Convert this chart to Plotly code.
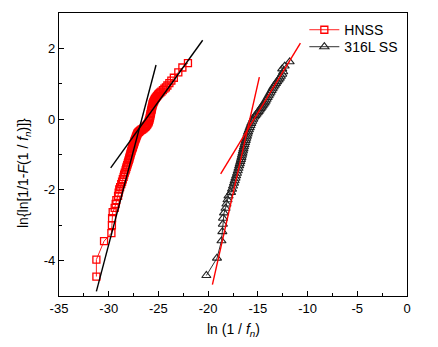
import plotly.graph_objects as go

# HNSS data (ln(1/fn), Weibull ordinate)
hnss_x = [-31.24, -31.24, -30.47, -29.73, -29.68, -29.66, -29.60, -29.40, -29.30, -29.23,
          -29.06, -29.00, -28.94, -28.85, -28.74, -28.66, -28.58, -28.50, -28.45, -28.38,
          -28.30, -28.25, -28.20, -28.14, -28.08, -28.03, -27.98, -27.94, -27.90, -27.86,
          -27.82, -27.78, -27.74, -27.70, -27.66, -27.62, -27.58, -27.55, -27.52, -27.48,
          -27.45, -27.42, -27.38, -27.34, -27.30, -27.26, -27.22, -27.18, -27.14, -27.10,
          -27.04, -26.96, -26.88, -26.80, -26.70, -26.60, -26.50, -26.42, -26.34, -26.26,
          -26.18, -26.10, -26.02, -25.96, -25.92, -25.88, -25.85, -25.82, -25.79, -25.76,
          -25.73, -25.70, -25.67, -25.64, -25.61, -25.58, -25.54, -25.50, -25.45, -25.40,
          -25.34, -25.27, -25.20, -25.12, -25.03, -24.93, -24.82, -24.70, -24.55, -24.40,
          -24.25, -24.10, -23.90, -23.70, -23.45, -23.00, -22.59, -22.03]
hnss_y = [-4.45, -3.97, -3.45, -3.22, -3.00, -2.80, -2.63, -2.51, -2.40, -2.29,
          -2.17, -2.08, -1.99, -1.92, -1.84, -1.77, -1.70, -1.63, -1.57, -1.51,
          -1.45, -1.40, -1.35, -1.30, -1.25, -1.20, -1.16, -1.12, -1.08, -1.04,
          -1.00, -0.96, -0.92, -0.89, -0.85, -0.82, -0.79, -0.76, -0.73, -0.70,
          -0.67, -0.64, -0.61, -0.58, -0.55, -0.52, -0.49, -0.46, -0.43, -0.40,
          -0.38, -0.36, -0.34, -0.32, -0.30, -0.28, -0.26, -0.24, -0.22, -0.20,
          -0.17, -0.14, -0.10, -0.06, -0.02, 0.02, 0.06, 0.10, 0.14, 0.18,
          0.22, 0.26, 0.30, 0.34, 0.38, 0.42, 0.45, 0.48, 0.51, 0.54,
          0.57, 0.60, 0.63, 0.66, 0.69, 0.72, 0.75, 0.78, 0.82, 0.86,
          0.90, 0.95, 1.02, 1.09, 1.17, 1.32, 1.46, 1.585]

# 316L SS data
ss_x = [-20.18, -19.11, -18.66, -18.57, -18.52, -18.50, -18.40, -18.25, -18.16, -18.05,
        -17.95, -17.70, -17.60, -17.50, -17.40, -17.33, -17.25, -17.18, -17.10, -17.02,
        -16.95, -16.88, -16.82, -16.76, -16.70, -16.65, -16.60, -16.55, -16.50, -16.45,
        -16.40, -16.34, -16.28, -16.22, -16.16, -16.10, -16.04, -15.98, -15.90, -15.82,
        -15.74, -15.66, -15.56, -15.46, -15.36, -15.25, -15.14, -15.02, -14.92, -14.82,
        -14.72, -14.62, -14.52, -14.42, -14.32, -14.22, -14.12, -14.02, -13.92, -13.82,
        -13.72, -13.62, -13.52, -13.42, -13.30, -13.18, -13.06, -12.92, -12.80, -12.68,
        -12.55, -12.45, -12.55, -12.30, -11.80]
ss_y = [-4.42, -3.93, -3.44, -3.18, -2.97, -2.80, -2.65, -2.52, -2.40, -2.28,
        -2.17, -2.07, -1.98, -1.89, -1.81, -1.74, -1.67, -1.60, -1.53, -1.46,
        -1.39, -1.32, -1.26, -1.20, -1.14, -1.08, -1.02, -0.96, -0.90, -0.84,
        -0.78, -0.72, -0.66, -0.60, -0.54, -0.48, -0.42, -0.36, -0.30, -0.24,
        -0.18, -0.12, -0.06, 0.00, 0.06, 0.10, 0.14, 0.18, 0.22, 0.26,
        0.30, 0.34, 0.38, 0.42, 0.46, 0.51, 0.56, 0.61, 0.66, 0.71,
        0.76, 0.81, 0.86, 0.91, 0.96, 1.01, 1.06, 1.11, 1.16, 1.21,
        1.27, 1.34, 1.42, 1.50, 1.62]

# Fitted line endpoints (estimated)
hnss_fit1_x = [-31.24, -25.24]
hnss_fit1_y = [-4.87, 1.53]
hnss_fit2_x = [-29.80, -20.55]
hnss_fit2_y = [-1.38, 2.23]
ss_fit1_x = [-19.57, -14.85]
ss_fit1_y = [-4.68, 1.19]
ss_fit2_x = [-18.74, -10.72]
ss_fit2_y = [-1.55, 2.15]

x_ticks = [-35, -30, -25, -20, -15, -10, -5, 0]
y_ticks = [-4, -2, 0, 2]

FONT = "Liberation Sans, Arial, sans-serif"

fig = go.Figure()
fig.add_trace(go.Scatter(
    x=hnss_x, y=hnss_y, mode="lines+markers", name="HNSS", legend="legend",
    line=dict(color="#ff2020", width=1),
    marker=dict(symbol="square-open", size=7, color="#ff0000", line=dict(width=1.3, color="#ff0000")),
))
fig.add_trace(go.Scatter(
    x=ss_x, y=ss_y, mode="lines+markers", name="316L SS", legend="legend2",
    line=dict(color="#303030", width=1),
    marker=dict(symbol="triangle-up-open", size=8, color="#222222", line=dict(width=1.1, color="#222222")),
))
for fx, fy, c in [(hnss_fit1_x, hnss_fit1_y, "black"), (hnss_fit2_x, hnss_fit2_y, "black"),
                  (ss_fit1_x, ss_fit1_y, "#ff0000"), (ss_fit2_x, ss_fit2_y, "#ff0000")]:
    fig.add_trace(go.Scatter(x=fx, y=fy, mode="lines", showlegend=False,
                             line=dict(color=c, width=1.4)))

fig.update_xaxes(
    range=[-35, 0], tickvals=x_ticks, ticktext=[str(v) for v in x_ticks],
    ticks="inside", ticklen=5, tickwidth=1, tickcolor="black",
    minor=dict(dtick=2.5, tick0=0, ticks="inside", ticklen=3, tickcolor="black"),
    showline=True, linecolor="black", linewidth=1.3, mirror=True,
    showgrid=False, zeroline=False,
    tickfont=dict(family=FONT, size=13, color="black"),
)
fig.update_yaxes(
    range=[-5, 3], tickvals=y_ticks, ticktext=[str(v) for v in y_ticks],
    ticks="inside", ticklen=5, tickwidth=1, tickcolor="black",
    minor=dict(dtick=1, tick0=0, ticks="inside", ticklen=3, tickcolor="black"),
    showline=True, linecolor="black", linewidth=1.3, mirror=True,
    showgrid=False, zeroline=False,
    tickfont=dict(family=FONT, size=13, color="black"),
)

fig.add_annotation(text="ln (1 / <i>f</i><sub><i>n</i></sub>)", xref="paper", yref="paper",
                   x=0.5, y=-0.12, showarrow=False, xanchor="center", yanchor="middle",
                   font=dict(family=FONT, size=14, color="black"))
fig.add_annotation(text="ln{ln[1/1-<i>F</i>(1 / <i>f</i><sub><i>n</i></sub>)]}", xref="paper", yref="paper",
                   x=-0.099, y=0.433, showarrow=False, textangle=-90, xanchor="center", yanchor="middle",
                   font=dict(family=FONT, size=14, color="black"))

leg_common = dict(xanchor="left", yanchor="top", bgcolor="rgba(0,0,0,0)",
                  font=dict(family=FONT, size=14, color="black"), itemwidth=30)
fig.update_layout(
    width=438, height=347,
    margin=dict(l=59, r=31, t=13, b=51),
    plot_bgcolor="white", paper_bgcolor="white",
    legend=dict(x=0.705, y=0.996, **leg_common),
    legend2=dict(x=0.705, y=0.936, **leg_common),
)

fig.write_html("out.html")
